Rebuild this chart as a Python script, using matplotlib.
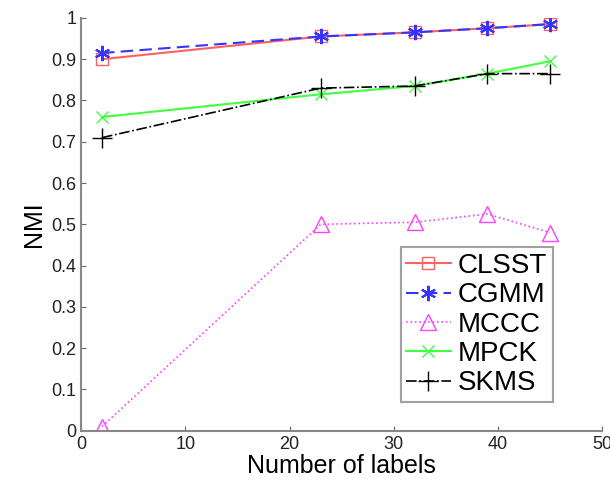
import matplotlib.pyplot as plt

plt.rcParams['font.family'] = ['Liberation Sans', 'DejaVu Sans']

labels_x = [2, 23, 32, 39, 45]
clsst = [0.90, 0.955, 0.965, 0.975, 0.985]
cgmm = [0.915, 0.955, 0.965, 0.975, 0.985]
mccc = [0.01, 0.50, 0.505, 0.525, 0.48]
mpck = [0.76, 0.815, 0.835, 0.865, 0.895]
skms = [0.71, 0.83, 0.835, 0.865, 0.865]

fig = plt.figure(figsize=(6.1, 4.84), dpi=100)
ax = fig.add_axes([0.133, 0.11, 0.854, 0.853])

ax.plot(labels_x, clsst, color='#ff6060', marker='s', mfc='none', ms=8, lw=1.5, label='CLSST')
ax.plot(labels_x, cgmm, color='#3535ff', marker=(6, 2, 0), ms=11, mew=1.5, lw=1.5,
        ls=(0, (6, 3)), label='CGMM')
ax.plot(labels_x, mccc, color='#ff40ff', marker='^', mfc='none', ms=11, lw=1.2, ls=':', label='MCCC')
ax.plot(labels_x, mpck, color='#40ff40', marker='x', ms=9, lw=1.5, label='MPCK')
ax.plot(labels_x, skms, color='black', marker='+', ms=14, lw=1.2, ls='-.', label='SKMS')

ax.set_xlim(0, 50)
ax.set_ylim(0, 1)
ax.set_xticks(range(0, 51, 10))
ax.set_yticks([i / 10 for i in range(11)])
ax.set_yticklabels(['0', '0.1', '0.2', '0.3', '0.4', '0.5', '0.6', '0.7', '0.8', '0.9', '1'])
ax.tick_params(direction='in', labelsize=13, colors='#666666', labelcolor='#222222')
for s in ['top', 'right']:
    ax.spines[s].set_visible(False)
for s in ['left', 'bottom']:
    ax.spines[s].set_color('#888888')
    ax.spines[s].set_linewidth(1.5)

ax.set_xlabel('Number of labels', fontsize=18, labelpad=1)
ax.set_ylabel('NMI', fontsize=18, labelpad=4)

leg = ax.legend(loc='lower right', bbox_to_anchor=(0.905, 0.07), fontsize=20, fancybox=False,
                handlelength=1.6, handletextpad=0.25, borderpad=0.2, labelspacing=0.12,
                borderaxespad=0)
leg.get_frame().set_edgecolor('#888888')
leg.get_frame().set_linewidth(1.5)

fig.savefig('out.png')
